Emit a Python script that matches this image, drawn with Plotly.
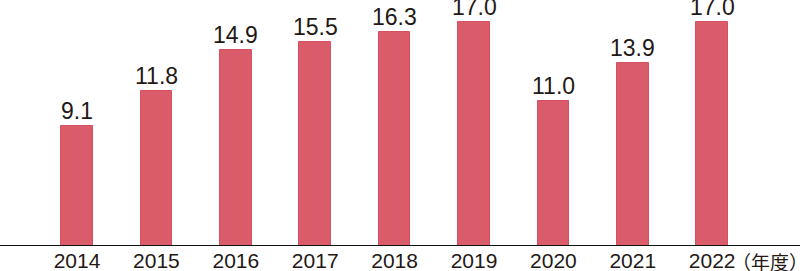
import plotly.graph_objects as go

years = ["2014", "2015", "2016", "2017", "2018", "2019", "2020", "2021", "2022"]
values = [9.1, 11.8, 14.9, 15.5, 16.3, 17.0, 11.0, 13.9, 17.0]
unit_label = "（年度）"

xs = list(range(len(years)))

fig = go.Figure()
fig.add_trace(go.Bar(
    x=xs,
    y=values,
    width=0.40,
    marker=dict(color="#DA5C6A", line=dict(color="#D65062", width=1)),
    hoverinfo="skip",
))

annotations = [dict(
    x=xi, y=v, xref="x", yref="y",
    text=f"{v:.1f}", showarrow=False,
    xanchor="center", yanchor="bottom", yshift=0,
    font=dict(family="Liberation Sans, Arial, sans-serif", size=23, color="#231815"),
) for xi, v in zip(xs, values)]

annotations.append(dict(
    text=unit_label, xref="paper", yref="paper",
    x=730 / 800, y=-0.002, xanchor="left", yanchor="top",
    showarrow=False,
    font=dict(family="Noto Sans CJK JP", size=19, color="#231815"),
))

fig.update_layout(
    width=800, height=271,
    margin=dict(l=0, r=0, t=0, b=25),
    paper_bgcolor="white", plot_bgcolor="white",
    showlegend=False,
    bargap=0,
    xaxis=dict(
        range=[-0.970, 9.106],
        tickmode="array",
        tickvals=xs,
        ticktext=years,
        tickfont=dict(family="Liberation Sans, Arial, sans-serif", size=21, color="#231815"),
        showgrid=False, zeroline=False,
        showline=False,
        ticks="",
        ticklen=0,
    ),
    yaxis=dict(
        range=[0, 18.71],
        visible=False,
        showgrid=False,
        zeroline=False,
    ),
    shapes=[dict(
        type="line", xref="paper", yref="y",
        x0=0, x1=1, y0=0, y1=0,
        line=dict(color="#111111", width=2),
    )],
    annotations=annotations,
)

fig.write_html("out.html")
